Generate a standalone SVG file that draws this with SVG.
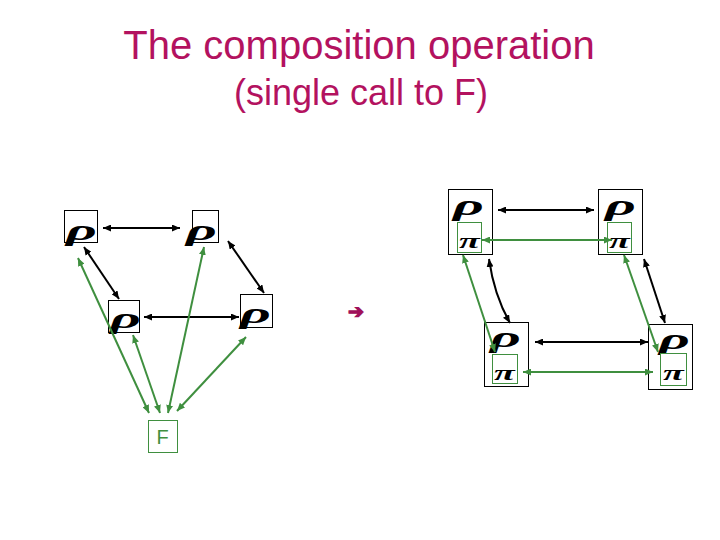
<svg xmlns="http://www.w3.org/2000/svg" width="720" height="540" viewBox="0 0 720 540">
<style>
.title{font-family:"Liberation Sans",Arial,sans-serif;fill:#b3125f;text-anchor:middle}
.box{fill:#fff;stroke:#000;stroke-width:1}
.gbox{fill:#fff;stroke:#3f8f3f;stroke-width:1}
.rho{font-family:"Liberation Serif","Times New Roman",serif;font-style:italic;font-weight:bold;font-size:30px;fill:#000}
.pi{font-family:"Liberation Serif","Times New Roman",serif;font-style:italic;font-weight:bold;font-size:20px;fill:#000}
.blk{stroke:#000;stroke-width:2;fill:none;marker-start:url(#ab);marker-end:url(#ab)}
.grn{stroke:#3f8f3f;stroke-width:2;fill:none;marker-start:url(#ag);marker-end:url(#ag)}
</style>
<defs>
<marker id="ab" viewBox="0 0 8 7" refX="8" refY="3.5" markerWidth="8" markerHeight="7" markerUnits="userSpaceOnUse" orient="auto-start-reverse"><path d="M0,0L8,3.5L0,7z" fill="#000"/></marker>
<marker id="ag" viewBox="0 0 8 7" refX="8" refY="3.5" markerWidth="8" markerHeight="7" markerUnits="userSpaceOnUse" orient="auto-start-reverse"><path d="M0,0L8,3.5L0,7z" fill="#3f8f3f"/></marker>
</defs>
<rect width="720" height="540" fill="#fff"/>
<text class="title" x="359" y="59" font-size="40">The composition operation</text>
<text class="title" x="361" y="105" font-size="36">(single call to F)</text>

<g id="nodeA"><rect class="box" x="64.5" y="210.5" width="33" height="32"/><text class="rho" transform="translate(66,240) scale(2,1)">ρ</text></g>
<g id="nodeB"><rect class="box" x="192.5" y="210.5" width="26" height="32"/><text class="rho" transform="translate(186,240) scale(2,1)">ρ</text></g>
<g id="nodeC"><rect class="box" x="108.5" y="300.5" width="31" height="32"/><text class="rho" transform="translate(110,328) scale(2,1)">ρ</text></g>
<g id="nodeD"><rect class="box" x="240.5" y="294.5" width="32" height="33"/><text class="rho" transform="translate(240,323) scale(2,1)">ρ</text></g>
<g id="nodeF"><rect class="gbox" x="148.5" y="420.5" width="29" height="32"/><text x="162.5" y="444" font-family="Liberation Sans,Arial,sans-serif" font-size="20" fill="#3f8f3f" text-anchor="middle">F</text></g>

<g id="nodeE"><rect class="box" x="448.5" y="189.5" width="44" height="65"/><text class="rho" transform="translate(453,215) scale(2,1)">ρ</text><rect class="gbox" x="457.5" y="222.5" width="24" height="30"/><text class="pi" transform="translate(459,248) scale(1.9,1)">π</text></g>
<g id="nodeG"><rect class="box" x="598.5" y="189.5" width="44" height="65"/><text class="rho" transform="translate(605,215) scale(2,1)">ρ</text><rect class="gbox" x="607.5" y="222.5" width="24" height="30"/><text class="pi" transform="translate(609,248) scale(1.9,1)">π</text></g>
<g id="nodeH"><rect class="box" x="484.5" y="322.5" width="44" height="64"/><text class="rho" transform="translate(490,347) scale(2,1)">ρ</text><rect class="gbox" x="492.5" y="354.5" width="25" height="29"/><text class="pi" transform="translate(494,380) scale(1.9,1)">π</text></g>
<g id="nodeI"><rect class="box" x="648.5" y="324.5" width="44" height="65"/><text class="rho" transform="translate(659,349) scale(2,1)">ρ</text><rect class="gbox" x="660.5" y="353.5" width="26" height="32"/><text class="pi" transform="translate(663,380) scale(1.9,1)">π</text></g>

<g id="connectors">
<line class="blk" x1="103" y1="228" x2="180" y2="228"/>
<line class="blk" x1="84" y1="247" x2="119" y2="299"/>
<line class="blk" x1="228" y1="241" x2="264" y2="293"/>
<line class="blk" x1="144" y1="317" x2="239" y2="317"/>
<line class="grn" x1="78" y1="258" x2="149" y2="413"/>
<line class="grn" x1="133" y1="335" x2="160" y2="413"/>
<line class="grn" x1="204" y1="247" x2="168" y2="413"/>
<line class="grn" x1="246" y1="337" x2="177" y2="411"/>
<line class="blk" x1="498" y1="210" x2="594" y2="210"/>
<line class="grn" x1="482" y1="240" x2="612" y2="240"/>
<line class="blk" x1="535" y1="342" x2="648" y2="342"/>
<line class="grn" x1="523" y1="372" x2="653" y2="372"/>
<path class="blk" d="M489,259 Q494,295 510,323"/>
<line class="grn" x1="463" y1="255" x2="495" y2="352"/>
<line class="blk" x1="644" y1="259" x2="665" y2="323"/>
<line class="grn" x1="624" y1="255" x2="658" y2="352"/>
</g>
<text x="348" y="318" font-family="DejaVu Sans,sans-serif" font-size="19" font-weight="bold" fill="#a0105a" stroke="#a0105a" stroke-width="1.2">➔</text>
</svg>
